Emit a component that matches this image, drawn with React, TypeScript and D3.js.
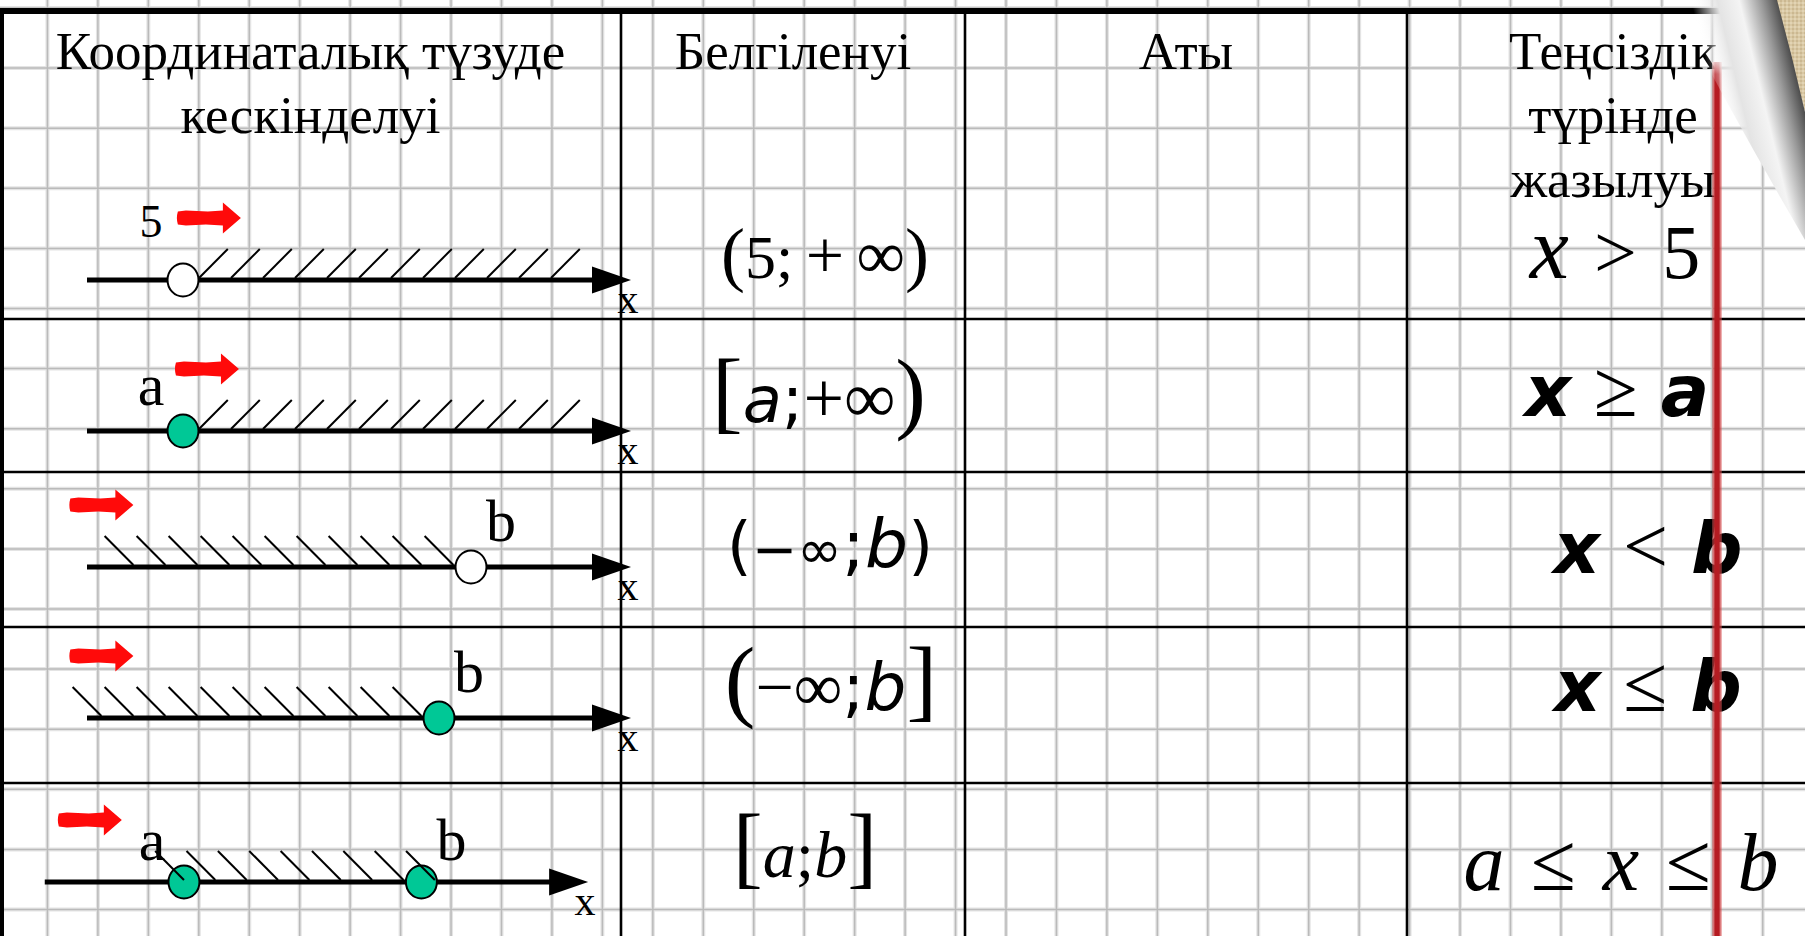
import React from 'react';
import * as d3 from 'd3';

// ---- data ----
const headers = [
  ['Координаталық түзуде', 'кескінделуі'],
  ['Белгіленуі'],
  ['Аты'],
  ['Теңсіздік', 'түрінде', 'жазылуы'],
];

// points on each number line (in line units), their letters and open/closed state
const pointLabels = [['5'], ['a'], ['b'], ['b'], ['a', 'b']];
const pointValues = [[3], [3], [12], [11], [3.03, 10.45]];
const pointClosed = [false, true, false, true, true];
const rayDirection = ['right', 'right', 'left', 'left', 'between'];
const arrowStart = [2.84, 2.78, -0.52, -0.52, -0.88];

const notations = ['(5;\u2009+\u2009∞)', '[a;+∞)', '(−∞;b)', '(−∞;b]', '[a;b]'];
const inequalities = ['x\u2004>\u20045', 'x ≥ a', 'x < b', 'x ≤ b', 'a\u2004≤\u2004x\u2004≤\u2004b'];

// ---- layout ----
const W = 1805;
const H = 936;
const colX = [0, 621, 965, 1407, W];
const rowY = [11, 319, 472, 627, 783, 945];
const lineY = [280, 431, 567, 718, 882];
const lineExtent = [[0, 17], [0, 17], [0, 17], [0, 17], [-1.32, 15.66]];
const notationX = [825, 819, 830, 831, 805];
const inequalityX = [1615, 1617, 1648, 1648, 1621];
const notationBase = [278, 422, 568, 710, 877];
const inequalityBase = [278, 416, 573, 711, 890];

const SERIF = '"Liberation Serif", "DejaVu Serif", serif';
const SANS = '"DejaVu Sans", sans-serif';

type St = {
  family: string; size: number;
  bracketFamily: string; bracketSize: number;
  letterFamily: string; letterSize: number; letterWeight: string;
  symbolFamily: string; symbolSize: number;
};

const notationStyle: St[] = [
  { family: SERIF, size: 62, bracketFamily: SERIF, bracketSize: 72, letterFamily: SERIF, letterSize: 62, letterWeight: 'normal', symbolFamily: SERIF, symbolSize: 68 },
  { family: SANS, size: 66, bracketFamily: SERIF, bracketSize: 92, letterFamily: SANS, letterSize: 64, letterWeight: 'normal', symbolFamily: SERIF, symbolSize: 72 },
  { family: SANS, size: 62, bracketFamily: SANS, bracketSize: 64, letterFamily: SANS, letterSize: 68, letterWeight: 'normal', symbolFamily: SANS, symbolSize: 54 },
  { family: SANS, size: 66, bracketFamily: SERIF, bracketSize: 92, letterFamily: SANS, letterSize: 66, letterWeight: 'normal', symbolFamily: SERIF, symbolSize: 68 },
  { family: SERIF, size: 66, bracketFamily: SERIF, bracketSize: 90, letterFamily: SERIF, letterSize: 66, letterWeight: 'normal', symbolFamily: SERIF, symbolSize: 66 },
];

const inequalityStyle: St[] = [
  { family: SERIF, size: 76, bracketFamily: SERIF, bracketSize: 76, letterFamily: SERIF, letterSize: 88, letterWeight: 'normal', symbolFamily: SERIF, symbolSize: 76 },
  { family: SANS, size: 72, bracketFamily: SANS, bracketSize: 72, letterFamily: SANS, letterSize: 72, letterWeight: 'bold', symbolFamily: SERIF, symbolSize: 80 },
  { family: SANS, size: 72, bracketFamily: SANS, bracketSize: 72, letterFamily: SANS, letterSize: 72, letterWeight: 'bold', symbolFamily: SERIF, symbolSize: 80 },
  { family: SANS, size: 72, bracketFamily: SANS, bracketSize: 72, letterFamily: SANS, letterSize: 72, letterWeight: 'bold', symbolFamily: SERIF, symbolSize: 80 },
  { family: SERIF, size: 80, bracketFamily: SERIF, bracketSize: 80, letterFamily: SERIF, letterSize: 82, letterWeight: 'normal', symbolFamily: SERIF, symbolSize: 82 },
];

const GREEN = '#00c896';
const RED = '#ff0a0a';

function Formula({ text, x, y, st }: { text: string; x: number; y: number; st: St }) {
  return (
    <text x={x} y={y} textAnchor="middle" fill="#000" style={{ whiteSpace: 'pre' }}>
      {Array.from(text).map((c, i) => {
        let family = st.family;
        let size = st.size;
        let italic = false;
        let weight = 'normal';
        if ('()[]'.includes(c)) {
          family = st.bracketFamily;
          size = st.bracketSize;
        } else if (/[a-z]/.test(c)) {
          family = st.letterFamily;
          size = st.letterSize;
          italic = true;
          weight = st.letterWeight;
        } else if (c === ';') {
          family = st.letterFamily;
          size = st.letterSize;
        } else if ('+−∞<>≤≥'.includes(c)) {
          family = st.symbolFamily;
          size = st.symbolSize;
        }
        return (
          <tspan key={i} fontFamily={family} fontSize={size} fontStyle={italic ? 'italic' : 'normal'} fontWeight={weight}>
            {c}
          </tspan>
        );
      })}
    </text>
  );
}

// blocky red arrow shape drawn next to each number line
const redArrow = 'M0,-6.5 L8,-7.5 L30,-6.5 L45,-7.5 L45,-15.5 L63,0 L45,15.5 L45,7.5 L28,6.5 L8,7.5 L0,6.5 Q-2,0 0,-6.5 Z';

export default function App() {
  const x = d3.scaleLinear().domain([0, 17]).range([87, 631]);
  const unit = x(1) - x(0);
  const hatch = 0.9 * unit;

  const vGrid = d3.range(-3, W + 10, 50.45);
  const hGrid = d3.range(8, H + 10, 60.1);

  return (
    <svg width={W} height={H} style={{ position: 'fixed', left: 0, top: 0, background: '#fff' }}>
      <defs>
        <linearGradient id="margin" x1="0" x2="1" y1="0" y2="0">
          <stop offset="0" stopColor="#e06060" stopOpacity="0.35" />
          <stop offset="0.3" stopColor="#b51c22" />
          <stop offset="0.7" stopColor="#b51c22" />
          <stop offset="1" stopColor="#e06060" stopOpacity="0.35" />
        </linearGradient>
        <linearGradient id="marginTop" x1="0" x2="0" y1="0" y2="1">
          <stop offset="0" stopColor="#fff" stopOpacity="0.6" />
          <stop offset="1" stopColor="#fff" stopOpacity="0" />
        </linearGradient>
        <linearGradient id="curl" gradientUnits="userSpaceOnUse" x1="1710" y1="80" x2="1793" y2="60">
          <stop offset="0" stopColor="#ffffff" stopOpacity="0" />
          <stop offset="0.3" stopColor="#e4e4e4" />
          <stop offset="0.55" stopColor="#f4f4f4" />
          <stop offset="0.8" stopColor="#9a9a9a" />
          <stop offset="1" stopColor="#4a4a4a" />
        </linearGradient>
        <pattern id="canvas" width="4" height="4" patternUnits="userSpaceOnUse">
          <rect width="4" height="4" fill="#d9c8a4" />
          <rect width="2" height="2" fill="#cbb891" />
          <rect x="2" y="2" width="2" height="2" fill="#e2d4b4" />
        </pattern>
      </defs>

      {/* graph paper */}
      <rect width={W} height={H} fill="#fff" />
      <g stroke="#e4e4e4" strokeWidth={4}>
        {vGrid.map((gx, i) => (
          <line key={`vv${i}`} x1={gx} x2={gx} y1={0} y2={H} />
        ))}
        {hGrid.map((gy, i) => (
          <line key={`hh${i}`} x1={0} x2={W} y1={gy} y2={gy} />
        ))}
      </g>
      <g stroke="#bababa" strokeWidth={1.5}>
        {vGrid.map((gx, i) => (
          <line key={`v${i}`} x1={gx} x2={gx} y1={0} y2={H} />
        ))}
        {hGrid.map((gy, i) => (
          <line key={`h${i}`} x1={0} x2={W} y1={gy} y2={gy} />
        ))}
      </g>

      {/* table */}
      <g stroke="#000">
        <line x1={0} x2={1778} y1={11} y2={11} strokeWidth={6} />
        <line x1={2} x2={2} y1={8} y2={H} strokeWidth={4} />
        {colX.slice(1, -1).map((cx, i) => (
          <line key={`c${i}`} x1={cx} x2={cx} y1={11} y2={H} strokeWidth={2.6} />
        ))}
        {rowY.slice(1, -1).map((ry, i) => (
          <line key={`r${i}`} x1={0} x2={W} y1={ry} y2={ry} strokeWidth={2.6} />
        ))}
      </g>

      {/* headers */}
      <g fontFamily={SERIF} fontSize={53} fill="#000" textAnchor="middle">
        {headers.map((lines, i) => {
          const cx = i === 3 ? 1613 : (colX[i] + colX[i + 1]) / 2;
          return lines.map((ln, j) => (
            <text key={`${i}-${j}`} x={cx} y={69 + j * 64}>
              {ln}
            </text>
          ));
        })}
      </g>

      {/* number lines */}
      {pointValues.map((pts, r) => {
        const y = lineY[r];
        const [e0, e1] = lineExtent[r];
        const tip = x(e1);
        const dir = rayDirection[r];
        let hatches: number[] = [];
        if (dir === 'right') hatches = d3.range(12).map((k) => pts[0] + 0.5 + k);
        if (dir === 'left') hatches = d3.range(11).map((k) => pts[0] - 0.55 - k);
        if (dir === 'between') hatches = d3.range(9).map((k) => pts[0] + k * 0.98);
        return (
          <g key={`nl${r}`}>
            <line x1={x(e0)} x2={tip - 20} y1={y} y2={y} stroke="#000" strokeWidth={5} />
            <path d={`M${tip},${y} L${tip - 39},${y - 13.5} L${tip - 39},${y + 13.5} Z`} fill="#000" />
            {pts.map((p, k) => (
              <ellipse
                key={`p${k}`}
                cx={x(p)}
                cy={y}
                rx={15.5}
                ry={16.5}
                fill={pointClosed[r] ? GREEN : '#fff'}
                stroke="#000"
                strokeWidth={2}
              />
            ))}
            <g stroke="#000" strokeWidth={2}>
              {hatches.map((h, k) =>
                dir === 'right' ? (
                  <line key={`hz${k}`} x1={x(h)} y1={y - 2} x2={x(h) + hatch} y2={y - 31} />
                ) : (
                  <line key={`hz${k}`} x1={x(h) - hatch} y1={y - 31} x2={x(h)} y2={y - 2} />
                )
              )}
            </g>
            <path d={redArrow} transform={`translate(${x(arrowStart[r])},${y - 62})`} fill={RED} />
            {pts.map((p, k) => {
              const lbl = pointLabels[r][k];
              const isDigit = /\d/.test(lbl);
              const left = dir === 'right' || (dir === 'between' && k === 0);
              return (
                <text
                  key={`l${k}`}
                  x={x(p) + (left ? -32 : 30)}
                  y={y + (isDigit ? -43 : r === 4 ? -22 : -26)}
                  textAnchor="middle"
                  fontFamily={SERIF}
                  fontSize={isDigit ? 46 : 60}
                >
                  {lbl}
                </text>
              );
            })}
            <text x={tip - 3} y={y + 33} textAnchor="middle" fontFamily={SERIF} fontSize={42}>
              x
            </text>
          </g>
        );
      })}

      {/* interval notation */}
      {notations.map((t, r) => (
        <Formula key={`n${r}`} text={t} x={notationX[r]} y={notationBase[r]} st={notationStyle[r]} />
      ))}

      {/* inequalities */}
      {inequalities.map((t, r) => (
        <Formula key={`q${r}`} text={t} x={inequalityX[r]} y={inequalityBase[r]} st={inequalityStyle[r]} />
      ))}

      {/* red margin line */}
      <rect x={1712} y={62} width={10} height={H - 62} fill="url(#margin)" />
      <rect x={1712} y={62} width={10} height={12} fill="url(#marginTop)" />

      {/* page curl */}
      <path d="M1776,0 L1805,0 L1805,112 Z" fill="url(#canvas)" />
      <path d="M1672,0 L1777,0 Q1792,55 1805,112 L1805,240 Q1735,120 1672,0 Z" fill="url(#curl)" />
    </svg>
  );
}
